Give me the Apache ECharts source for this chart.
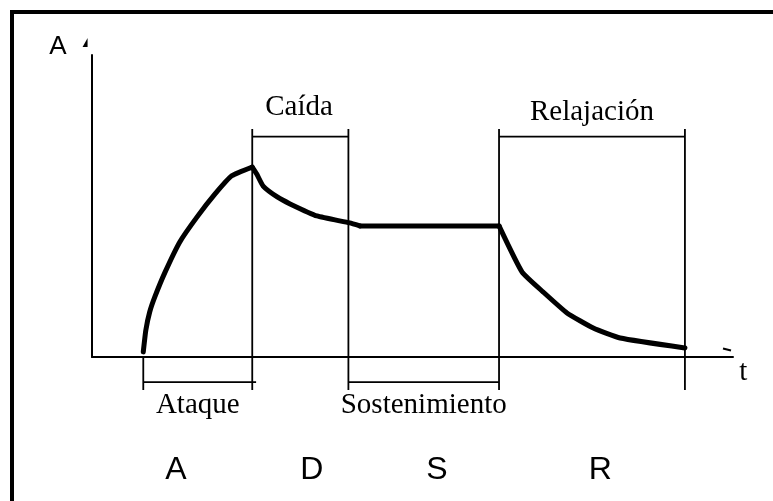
<!DOCTYPE html>
<html>
<head>
<meta charset="utf-8">
<script src="https://cdn.jsdelivr.net/npm/echarts@6/dist/echarts.min.js"></script>
<style>
  html, body { margin: 0; padding: 0; background: #fff; }
  #chart { width: 773px; height: 501px; }
</style>
</head>
<body>
<div id="chart"></div>
<script>
// envelope points [t, A]
const attack = [[8, 1.7], [8.4, 8.9], [9.0, 14.9], [9.8, 19.9], [11.4, 28.1], [13.7, 38.1], [16.4, 46.4], [19.2, 54.0], [21.8, 60.0], [25, 62.9]];
const decay = [[25, 62.9], [25.7, 60.6], [26.7, 56.6], [28.9, 53.0], [30.9, 50.7], [35.1, 46.7], [40.2, 44.4], [41.8, 43.4]];
const sustain = [[41.8, 43.4], [63.5, 43.4]];
const release = [[63.5, 43.4], [67.1, 28.1], [70.4, 21.5], [74.1, 14.6], [78.2, 9.6], [82.4, 6.3], [92.5, 3.0]];

// phase boundaries and bracket levels
const phaseEdges = [8, 25, 40, 63.5, 92.5];
const topBracketY = 73;
const guideTop = 75.5;
const bottomBracketY = -8.3;
const guideBottom = -10.9;

const phaseNames = ['Ataque', 'Caída', 'Sostenimiento', 'Relajación'];
const phaseLabelPos = [[16.5, -15.9], [32.3, 82.5], [51.75, -15.9], [78, 81.1]];
const letters = ['A', 'D', 'S', 'R'];
const letterX = [13.1, 34.3, 53.8, 79.3];
const letterY = -37.6;

// guide lines, broken with nulls
const guides = [];
function seg(a, b) { guides.push(a, b, [null, null]); }
seg([phaseEdges[0], 0], [phaseEdges[0], guideBottom]);
for (let i = 1; i < phaseEdges.length; i++) seg([phaseEdges[i], guideTop], [phaseEdges[i], guideBottom]);
seg([phaseEdges[1], topBracketY], [phaseEdges[2], topBracketY]);
seg([phaseEdges[3], topBracketY], [phaseEdges[4], topBracketY]);
seg([phaseEdges[0], bottomBracketY], [phaseEdges[1] + 0.6, bottomBracketY]);
seg([phaseEdges[2], bottomBracketY], [phaseEdges[3], bottomBracketY]);

const serif = 'Liberation Serif, Times New Roman, serif';
const sans = 'Liberation Sans, Arial, sans-serif';

const labels = phaseNames.map((n, i) => ({ name: n, value: phaseLabelPos[i] }));
const letterLabels = letters.map((n, i) => ({ name: n, value: [letterX[i], letterY] }));

function curve(data, smooth) {
  return {
    type: 'line', data: data, showSymbol: false, clip: false, smooth: smooth,
    lineStyle: { color: '#000', width: 5, join: 'round', cap: 'round' }
  };
}
function textSeries(data, font, size) {
  return {
    type: 'scatter', data: data, symbolSize: 0, clip: false,
    itemStyle: { opacity: 1 },
    label: { show: true, position: 'inside', formatter: '{b}', color: '#000', opacity: 1,
      textBorderWidth: 0, fontFamily: font, fontSize: size }
  };
}

const chart = echarts.init(document.getElementById('chart'), null, { renderer: 'canvas' });
chart.setOption({
  animation: false,
  backgroundColor: '#fff',
  grid: { left: 92, right: 40, top: 55, bottom: 144 },
  xAxis: {
    type: 'value', min: 0, max: 100,
    axisLine: { lineStyle: { color: '#000', width: 2 } },
    axisTick: { show: false }, axisLabel: { show: false }, splitLine: { show: false }
  },
  yAxis: {
    type: 'value', min: 0, max: 100,
    axisLine: { show: true, lineStyle: { color: '#000', width: 2 } },
    axisTick: { show: false }, axisLabel: { show: false }, splitLine: { show: false }
  },
  series: [
    {
      type: 'line', data: guides, showSymbol: false, clip: false,
      connectNulls: false, silent: true,
      lineStyle: { color: '#000', width: 1.8 }
    },
    curve(attack, 0.15),
    curve(decay, 0.15),
    curve(sustain, false),
    curve(release, 0.15),
    textSeries(labels, serif, 29),
    textSeries(letterLabels, sans, 32),
    textSeries([{ name: 'A', value: [-5.3, 102.6] }], sans, 26),
    textSeries([{ name: 't', value: [101.6, -5] }], serif, 29)
  ]
});

// frame and small arrow marks
const yTip = chart.convertToPixel({ gridIndex: 0 }, [-1, 104]);
const xTip = chart.convertToPixel({ gridIndex: 0 }, [100, 2.5]);
chart.setOption({
  graphic: [
    { type: 'rect', shape: { x: 12, y: 12, width: 780, height: 510 }, style: { fill: 'none', stroke: '#000', lineWidth: 4 } },
    { type: 'polygon', shape: { points: [[yTip[0] - 3, yTip[1] + 4], [yTip[0] + 2, yTip[1] - 5], [yTip[0] + 2, yTip[1] + 4]] }, style: { fill: '#000' } },
    { type: 'polyline', shape: { points: [[xTip[0] - 10, xTip[1] - 1], [xTip[0] - 2, xTip[1] + 1]] }, style: { stroke: '#000', lineWidth: 2 } }
  ]
});
</script>
</body>
</html>
